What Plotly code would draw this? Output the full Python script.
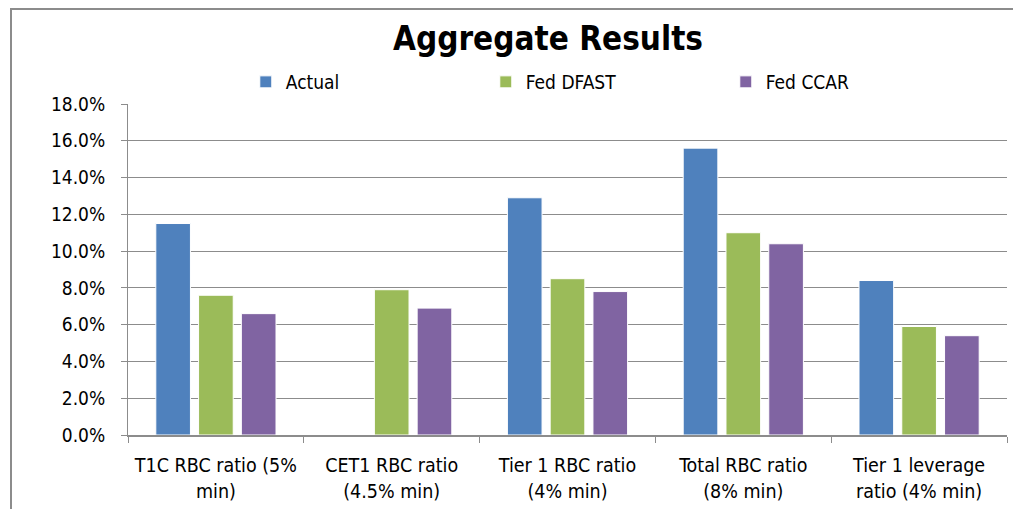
import plotly.graph_objects as go

categories = ["T1C RBC ratio (5%<br>min)", "CET1 RBC ratio<br>(4.5% min)", "Tier 1 RBC ratio<br>(4% min)",
              "Total RBC ratio<br>(8% min)", "Tier 1 leverage<br>ratio (4% min)"]
actual = [0.115, None, 0.129, 0.156, 0.084]
fed_dfast = [0.076, 0.079, 0.085, 0.110, 0.059]
fed_ccar = [0.066, 0.069, 0.078, 0.104, 0.054]
series_names = ["Actual", "Fed DFAST", "Fed CCAR"]
colors = ["#4F81BD", "#9BBB59", "#8064A2"]

FONT = "DejaVu Sans Condensed, Liberation Sans Narrow, Arial, sans-serif"

W, H = 1013, 501  # page body has an 8px margin

fig = go.Figure()
for name, vals, col in zip(series_names, [actual, fed_dfast, fed_ccar], colors):
    fig.add_trace(go.Bar(x=categories, y=vals, name=name,
                         marker=dict(color=col, line=dict(color="white", width=1))))

fig.update_layout(
    width=W, height=H,
    margin=dict(l=120, r=14, t=96, b=74, autoexpand=False),
    paper_bgcolor="white", plot_bgcolor="white",
    barmode="group", bargap=0.27, bargroupgap=0.19,
    font=dict(family=FONT, color="black", size=18),
    title=dict(text="<b>Aggregate Results</b>", x=540 / W, xanchor="center",
               y=1 - 30 / H, yanchor="middle", font=dict(size=33, family=FONT, color="black")),
    legend=dict(orientation="h", x=0.134, xanchor="left", y=1 + 22 / 331, yanchor="middle",
                entrywidth=195, entrywidthmode="pixels", font=dict(size=19, family=FONT),
                bgcolor="rgba(0,0,0,0)", itemwidth=30),
    showlegend=True,
)
fig.update_yaxes(range=[0, 0.18], dtick=0.02, tickformat=".1%", showgrid=True,
                 gridcolor="#8C8C8C", gridwidth=1, showline=True, linecolor="#8C8C8C",
                 linewidth=1, ticks="outside", ticklen=6, tickcolor="#8C8C8C",
                 ticklabelstandoff=12,
                 tickfont=dict(size=19, family=FONT), zeroline=False)
fig.update_xaxes(showline=True, linecolor="#8C8C8C", linewidth=2, ticks="outside",
                 tickson="boundaries", ticklen=6, tickcolor="#8C8C8C", tickangle=0,
                 ticklabelstandoff=12,
                 tickfont=dict(size=19.5, family=FONT))

# outer chart border
fig.add_shape(type="rect", xref="paper", yref="paper",
              x0=(11 - 128) / 879, x1=1.05, y0=-0.5, y1=1 + (104 - 9) / 331,
              line=dict(color="#8C8C8C", width=2), fillcolor="rgba(0,0,0,0)", layer="below")

fig.write_html("out.html")
